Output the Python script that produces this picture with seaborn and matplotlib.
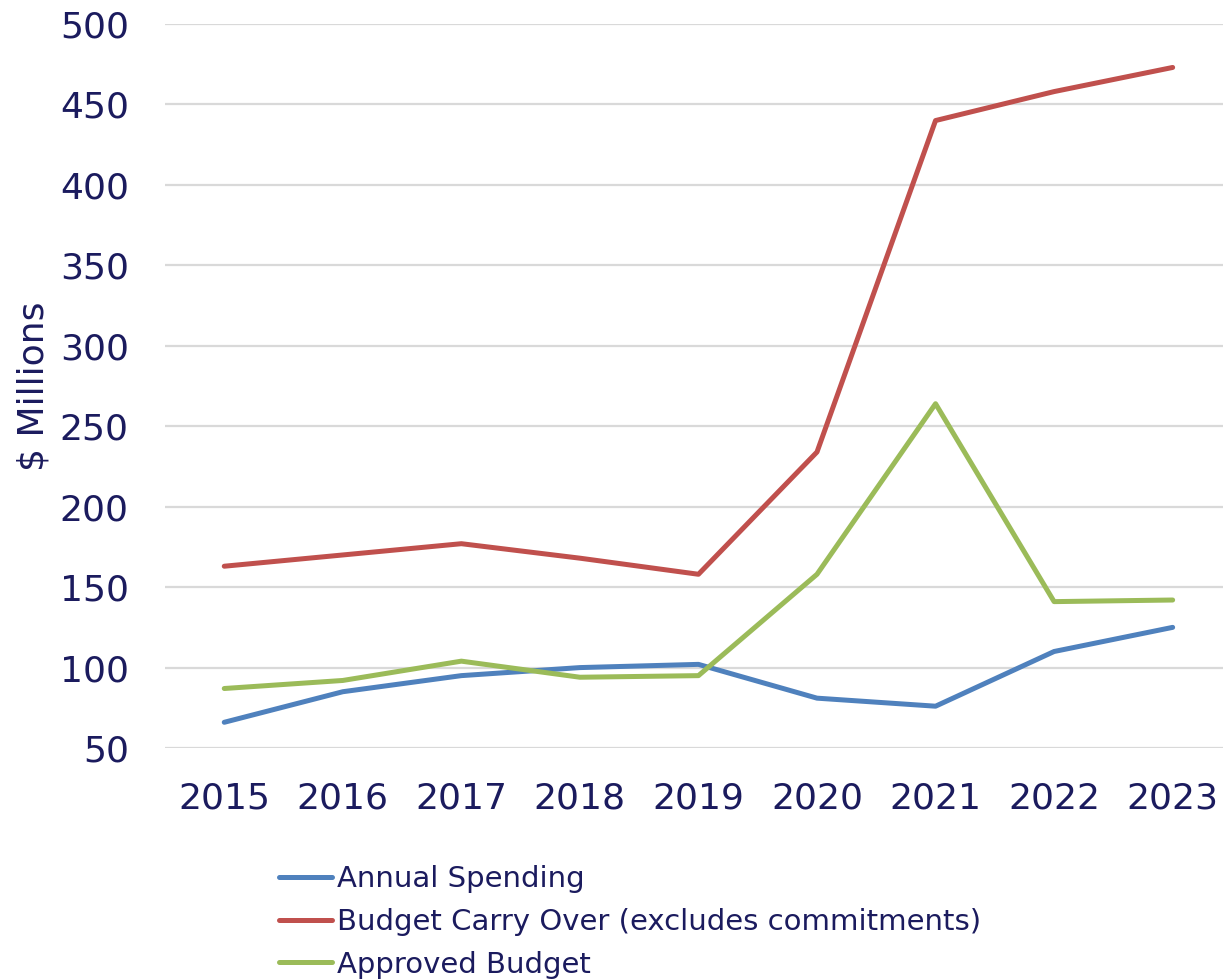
import matplotlib
matplotlib.use("Agg")
import matplotlib.pyplot as plt
import seaborn as sns
import pandas as pd

years = ["2015", "2016", "2017", "2018", "2019", "2020", "2021", "2022", "2023"]
annual_spending = [66, 85, 95, 100, 102, 81, 76, 110, 125]
carry_over = [163, 170, 177, 168, 158, 234, 440, 458, 473]
approved_budget = [87, 92, 104, 94, 95, 158, 264, 141, 142]

series_names = [
    "Annual Spending",
    "Budget Carry Over (excludes commitments)",
    "Approved Budget",
]
colors = ["#4F81BD", "#C0504D", "#9BBB59"]
text_color = "#1B1B5E"

df = pd.concat(
    [
        pd.DataFrame({"Year": years, "Value": vals, "Series": name})
        for name, vals in zip(series_names, [annual_spending, carry_over, approved_budget])
    ],
    ignore_index=True,
)

sns.set_theme(style="white")
plt.rcParams["font.family"] = ["DejaVu Sans"]

fig = plt.figure(figsize=(12.23, 9.8), dpi=100)
ax = fig.add_axes([0.1349, 0.2367, 0.8724, 0.7388])

sns.lineplot(
    data=df, x="Year", y="Value", hue="Series", hue_order=series_names,
    palette=colors, linewidth=3.6, ax=ax, sort=False,
)
for line in ax.get_lines():
    line.set_solid_capstyle("round")
    line.set_solid_joinstyle("round")

ax.set_xlim(-0.5, len(years) - 0.5)
ax.set_ylim(50, 500)
ax.set_yticks(range(50, 501, 50))
ax.yaxis.grid(True, color="#D9D9D9", linewidth=1.6)
ax.xaxis.grid(False)
ax.set_axisbelow(True)
for s in ax.spines.values():
    s.set_visible(False)

ax.tick_params(axis="y", length=0, pad=26, labelsize=26, labelcolor=text_color)
ax.tick_params(axis="x", length=0, pad=24, labelsize=26, labelcolor=text_color)
ax.set_xlabel("")
ax.set_ylabel("$ Millions", fontsize=26, color=text_color)
ax.yaxis.set_label_coords(-0.107, 0.5)

ax.get_legend().remove()
handles, labels = ax.get_legend_handles_labels()
leg = fig.legend(
    handles, labels, loc="upper left", bbox_to_anchor=(0.2285, 0.117),
    frameon=False, fontsize=21, handlelength=1.8, handletextpad=0.17,
    labelspacing=0.5, borderpad=0, borderaxespad=0,
)
for t in leg.get_texts():
    t.set_color(text_color)
for h in leg.legend_handles:
    h.set_linewidth(3.6)
    h.set_solid_capstyle("round")

fig.savefig("out.png", dpi=100)
